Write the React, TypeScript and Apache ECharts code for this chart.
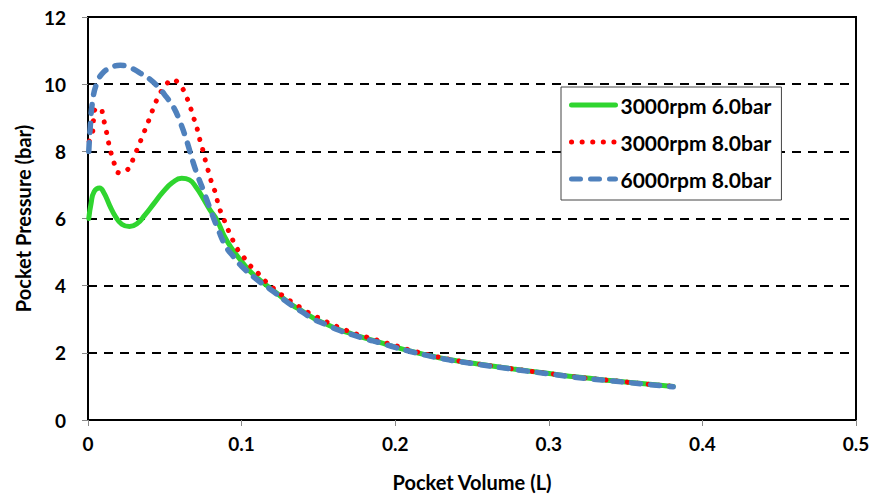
import React, { useEffect, useRef } from "react";
import * as echarts from "echarts";

const seriesNames = ["3000rpm 6.0bar", "3000rpm 8.0bar", "6000rpm 8.0bar"];

const green6bar: [number, number][] = [
  [0.0005, 6.0], [0.002, 6.45], [0.004, 6.8], [0.0075, 6.91], [0.0105, 6.75], [0.014, 6.4],
  [0.018, 6.05], [0.022, 5.83], [0.027, 5.76], [0.032, 5.85], [0.037, 6.1], [0.043, 6.45],
  [0.049, 6.8], [0.055, 7.07], [0.061, 7.2], [0.066, 7.15], [0.0705, 6.92], [0.075, 6.6],
  [0.0795, 6.25], [0.084, 5.95], [0.0885, 5.5], [0.093, 5.15], [0.099, 4.78], [0.105, 4.45],
  [0.111, 4.2], [0.118, 3.95], [0.125, 3.7], [0.132, 3.45], [0.14, 3.23], [0.147, 3.03],
  [0.155, 2.86], [0.163, 2.7], [0.172, 2.56], [0.181, 2.43], [0.19, 2.31], [0.2, 2.17],
  [0.21, 2.05], [0.22, 1.94], [0.235, 1.8], [0.255, 1.66], [0.277, 1.52], [0.299, 1.39],
  [0.32, 1.27], [0.342, 1.17], [0.364, 1.07], [0.381, 1.0],
];

const red8bar: [number, number][] = [
  [0.0008, 8.3], [0.003, 8.57], [0.0041, 9.2], [0.0078, 9.29], [0.01, 8.97], [0.0117, 8.65],
  [0.0132, 8.3], [0.015, 7.95], [0.0169, 7.66], [0.0204, 7.36], [0.0263, 7.48], [0.0295, 7.78],
  [0.0321, 8.07], [0.035, 8.4], [0.0378, 8.72], [0.0404, 9.02], [0.043, 9.34], [0.046, 9.64],
  [0.0497, 9.91], [0.0551, 10.13], [0.061, 9.9], [0.0642, 9.61], [0.0668, 9.29], [0.069, 8.97],
  [0.0712, 8.65], [0.0729, 8.33], [0.075, 8.0], [0.0768, 7.66], [0.0788, 7.34], [0.0807, 7.04],
  [0.0833, 6.72], [0.085, 6.37], [0.0877, 6.07], [0.0903, 5.76], [0.0933, 5.46], [0.0964, 5.15],
  [0.101, 4.87], [0.1055, 4.6], [0.111, 4.36], [0.1155, 4.13], [0.121, 3.91], [0.1265, 3.71],
  [0.1326, 3.52], [0.1387, 3.34], [0.145, 3.16], [0.152, 3.0], [0.1586, 2.85], [0.165, 2.73],
  [0.172, 2.6], [0.179, 2.5], [0.186, 2.41], [0.193, 2.31], [0.2005, 2.21], [0.2075, 2.11],
  [0.214, 2.03], [0.22, 1.96], [0.235, 1.81], [0.255, 1.66], [0.277, 1.52], [0.299, 1.39],
  [0.32, 1.27], [0.342, 1.17], [0.364, 1.07], [0.381, 1.0],
];

const blue8bar: [number, number][] = [
  [0.0005, 8.0], [0.0015, 8.75], [0.003, 9.5], [0.0055, 10.0], [0.009, 10.3], [0.014, 10.47],
  [0.021, 10.56], [0.028, 10.48], [0.034, 10.33], [0.04, 10.16], [0.046, 9.9], [0.051, 9.62],
  [0.0555, 9.33], [0.06, 8.87], [0.064, 8.35], [0.0686, 7.65], [0.072, 7.2], [0.075, 6.85],
  [0.079, 6.35], [0.0845, 5.7], [0.09, 5.15], [0.095, 4.85], [0.1, 4.58], [0.11, 4.18],
  [0.12, 3.85], [0.13, 3.5], [0.14, 3.2], [0.147, 3.0], [0.155, 2.84], [0.163, 2.68],
  [0.172, 2.54], [0.181, 2.41], [0.19, 2.3], [0.2, 2.16], [0.21, 2.04], [0.22, 1.93],
  [0.235, 1.79], [0.255, 1.65], [0.277, 1.51], [0.299, 1.38], [0.32, 1.26], [0.342, 1.16],
  [0.364, 1.06], [0.381, 0.99],
];

const FONT = "Lato";

export default function App() {
  const ref = useRef<HTMLDivElement>(null);
  useEffect(() => {
    if (!ref.current) return;
    const chart = echarts.init(ref.current, undefined, { renderer: "svg" });
    chart.setOption({
      animation: false,
      backgroundColor: "#ffffff",
      textStyle: { fontFamily: FONT },
      grid: {
        left: 88, right: 17, top: 17, bottom: 78,
        show: true, borderColor: "#000", borderWidth: 2,
      },
      legend: {
        orient: "vertical",
        left: 561, top: 87,
        backgroundColor: "#fff",
        borderColor: "#444", borderWidth: 1,
        padding: [6, 10, 9, 8],
        itemWidth: 44, itemHeight: 14, itemGap: 13,
        itemStyle: { opacity: 0 },
        lineStyle: { width: 5, cap: "round" },
        textStyle: { fontFamily: FONT, fontWeight: "bold", fontSize: 21, color: "#000", lineHeight: 24 },
        data: seriesNames,
      },
      xAxis: {
        type: "value", min: 0, max: 0.5, interval: 0.1,
        name: "Pocket Volume (L)", nameLocation: "middle", nameGap: 52,
        nameTextStyle: { fontFamily: FONT, fontWeight: "bold", fontSize: 20, color: "#000" },
        axisLine: { show: true, lineStyle: { color: "#000", width: 2 } },
        axisTick: { show: true, length: 6, lineStyle: { color: "#888" } },
        axisLabel: { fontFamily: FONT, fontWeight: "bold", fontSize: 19, color: "#000", margin: 14 },
        splitLine: { show: false },
      },
      yAxis: {
        type: "value", min: 0, max: 12, interval: 2,
        name: "Pocket Pressure (bar)", nameLocation: "middle", nameGap: 54,
        nameTextStyle: { fontFamily: FONT, fontWeight: "bold", fontSize: 20, color: "#000" },
        axisLine: { show: true, lineStyle: { color: "#000", width: 2 } },
        axisTick: { show: true, length: 6, lineStyle: { color: "#888" } },
        axisLabel: { fontFamily: FONT, fontWeight: "bold", fontSize: 19, color: "#000", margin: 22 },
        splitLine: { show: true, lineStyle: { color: "#000", width: 2, type: [9, 7] } },
      },
      series: [
        {
          name: seriesNames[0], type: "line", data: green6bar, smooth: true, symbol: "none",
          lineStyle: { color: "#2fd52f", width: 5, cap: "round" },
          itemStyle: { color: "#2fd52f" }, z: 2,
        },
        {
          name: seriesNames[1], type: "line", data: red8bar, smooth: true, symbol: "none",
          lineStyle: { color: "#ff0000", width: 5, type: [0.1, 10.5], cap: "round" },
          itemStyle: { color: "#ff0000" }, z: 3,
        },
        {
          name: seriesNames[2], type: "line", data: blue8bar, smooth: true, symbol: "none",
          lineStyle: { color: "#4f81bd", width: 5.5, type: [9, 10], cap: "round" },
          itemStyle: { color: "#4f81bd" }, z: 4,
        },
      ],
    });
    return () => chart.dispose();
  }, []);
  return <div ref={ref} style={{ width: 873, height: 498, position: "absolute", left: 0, top: 0 }} />;
}
